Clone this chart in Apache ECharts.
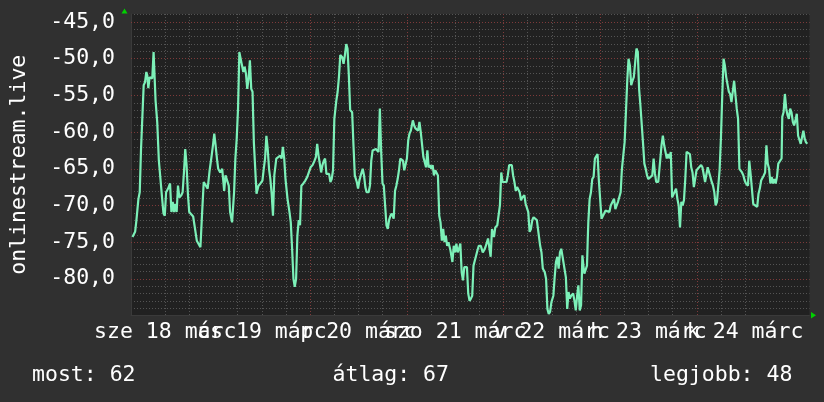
<!DOCTYPE html>
<html><head><meta charset="utf-8">
<script src="https://cdn.jsdelivr.net/npm/echarts@6/dist/echarts.min.js"></script>
<style>html,body{margin:0;padding:0;background:#303030;}#c{width:824px;height:402px;}</style>
</head><body><div id="c"></div>
<script>
// hours since 18 márc 00:00
const hours1 = [3.87,4.28,4.52,4.85,5.34,5.67,5.99,6.32,6.65,6.98,7.31,7.55,7.80,8.13,8.45,8.78,9.11,9.44,9.60,10.01,10.42,10.91,11.24,11.57,11.89,12.22,12.71,13.20,13.53,13.86,14.19,14.52,14.84,15.17,15.50,15.99,16.32,16.65,16.97,17.30,17.63,17.96,18.45,18.94,19.43,19.84,20.25,20.74,21.07,21.56,22.05,22.54,23.03,23.53,23.85,24.18,24.51,24.84,25.16,25.66,26.15,26.64,26.97,27.46,27.78,28.11,28.60,29.10,29.42,29.75,30.08,30.41,30.90,31.39,31.72,32.04,32.37,32.70,33.03,33.36,33.68,34.01,34.34,34.67,35.16,35.65,36.14,36.47,36.80,37.12,37.45,37.78,38.11,38.43,38.76,39.09,39.58,40.07,40.56,40.89,41.22,41.55,41.87,42.37,42.86,43.18,43.51,43.84,44.17,44.50,44.82,45.15,45.48,45.81,46.30,46.79,47.28,47.77,48.10,48.59,49.08,49.41,49.74,50.07,50.39,50.72,51.05,51.38,51.70,52.03,52.36,52.69,53.02,53.34,53.67,54.00,54.49,54.82,55.14,55.47,55.96,56.29,56.62,56.95,57.27,57.60,57.93,58.42,58.75,59.08];
const values1 = [-74.3,-74.3,-73.6,-72.0,-69.1,-68.2,-62.3,-62.2,-53.6,-53.2,-51.8,-52.3,-54.0,-52.5,-52.5,-52.7,-49.1,-49.3,-55.7,-58.6,-63.9,-64.1,-69.1,-71.1,-71.4,-68.2,-67.7,-67.0,-70.9,-69.5,-70.9,-69.8,-70.9,-67.3,-68.9,-68.6,-68.2,-65.5,-62.3,-64.5,-68.4,-70.9,-71.1,-71.5,-71.6,-74.8,-74.9,-75.7,-72.0,-66.8,-67.0,-67.7,-65.2,-63.2,-61.8,-60.2,-61.8,-63.6,-65.0,-65.5,-65.0,-68.0,-65.9,-65.7,-67.3,-70.9,-72.3,-68.2,-63.6,-60.9,-56.8,-49.1,-48.9,-51.8,-51.1,-52.0,-54.1,-52.7,-50.2,-54.1,-54.5,-61.4,-61.6,-68.4,-67.3,-67.0,-66.6,-65.0,-63.6,-60.5,-62.3,-65.0,-66.4,-68.4,-71.4,-65.9,-63.6,-63.6,-63.2,-63.6,-62.0,-63.6,-66.4,-69.1,-70.9,-72.3,-75.9,-80.0,-81.1,-80.0,-74.1,-72.0,-72.7,-67.3,-67.0,-66.6,-66.1,-66.1,-64.8,-64.5,-63.9,-63.4,-61.6,-63.2,-64.3,-65.5,-64.5,-63.9,-63.6,-65.7,-65.9,-65.7,-66.8,-66.4,-65.2,-58.2,-55.7,-54.5,-52.5,-49.5,-49.8,-50.7,-49.5,-48.0,-48.6,-52.3,-57.0,-57.3,-61.8,-65.9];
const hours2 = [59.57,59.89,60.22,60.55,61.04,61.37,61.70,62.02,62.52,62.84,63.17,63.50,63.83,64.32,64.65,64.97,65.30,65.63,65.96,66.28,66.61,66.94,67.27,67.59,67.92,68.25,68.74,69.07,69.40,69.72,70.05,70.38,70.71,71.04,71.36,71.69,72.02,72.35,72.67,73.00,73.49,73.82,74.15,74.48,74.80,75.13,75.46,75.79,76.11,76.44,76.77,77.10,77.42,77.75,78.08,78.41,78.73,79.06,79.39,79.72,80.05,80.37,80.70,81.03,81.36,81.68,82.01,82.34,82.83,83.32,83.65,83.98,84.30,84.63,84.96,85.29,85.62,85.94,86.27,86.60,86.93,87.25,87.58,87.91,88.24,88.56,88.89,89.22,89.55,89.87,90.37,90.86,91.19,91.51,91.84,92.17,92.50,92.82,93.15,93.64,93.97,94.46,94.79,95.12,95.45,95.77,96.26,96.76,97.08,97.41,97.74,98.07,98.39,98.72,99.05,99.38,99.70,100.03,100.36,100.69,101.18,101.51,101.83,102.16,102.49,102.82,103.15,103.47,103.80,104.29,104.78,105.11,105.44,105.77,106.26,106.58,106.91,107.24,107.57,107.90,108.39,108.71,109.04,109.37,109.70,110.03,110.35,110.68,111.17,111.50,111.83,112.16,112.48,112.81,113.30,113.63,113.96,114.29,114.61,114.94,115.27,115.60,115.92];
const values2 = [-66.8,-67.7,-66.6,-65.9,-65.0,-65.9,-67.5,-68.2,-68.2,-67.3,-63.9,-62.5,-62.3,-62.3,-62.3,-62.7,-56.8,-62.7,-67.0,-67.3,-70.0,-72.7,-73.2,-72.0,-71.4,-71.1,-71.8,-68.0,-67.3,-66.4,-65.2,-63.6,-63.6,-63.9,-65.2,-65.2,-63.6,-61.1,-60.2,-59.8,-58.4,-59.1,-59.5,-59.3,-59.8,-58.6,-60.0,-60.2,-63.4,-63.6,-64.8,-62.5,-64.8,-64.5,-65.0,-64.5,-65.9,-65.2,-65.0,-65.9,-71.4,-72.3,-74.8,-73.2,-75.0,-74.1,-75.5,-75.0,-76.1,-77.7,-75.5,-76.4,-75.2,-76.4,-75.9,-75.2,-79.1,-80.2,-78.4,-78.2,-78.4,-82.0,-83.0,-82.7,-82.3,-78.2,-77.5,-77.3,-76.1,-75.5,-75.5,-76.4,-76.1,-75.7,-75.9,-74.5,-74.5,-77.0,-73.2,-74.3,-73.0,-72.7,-72.7,-70.0,-65.5,-66.8,-66.8,-66.8,-65.9,-64.5,-64.3,-64.5,-65.9,-66.8,-68.0,-67.5,-67.3,-68.2,-69.3,-68.9,-68.6,-69.8,-70.0,-70.9,-73.6,-73.2,-72.0,-71.6,-71.4,-72.0,-72.0,-75.5,-76.4,-78.6,-79.1,-80.0,-84.1,-84.8,-84.5,-83.2,-82.3,-79.8,-77.7,-77.0,-78.6,-76.4,-75.9,-77.0,-77.0,-79.8,-84.1,-81.8,-82.7,-82.3,-82.0,-83.0,-84.3,-82.3,-80.9,-84.3,-83.6,-76.8,-78.6];
const hours3 = [116.09,116.41,116.74,116.91,117.07,117.40,117.73,118.05,118.38,118.71,119.04,119.36,119.69,120.02,120.35,120.67,121.00,121.33,121.82,122.31,122.64,123.13,123.46,123.79,124.11,124.44,124.77,125.10,125.42,125.75,126.08,126.41,126.74,127.06,127.39,127.72,128.05,128.37,128.70,129.03,129.36,129.68,130.01,130.34,130.67,130.99,131.32,131.65,131.98,132.47,132.96,133.29,133.62,133.94,134.44,134.93,135.25,135.58,135.91,136.24,136.56,136.89,137.22,137.55,137.88,138.37,138.86,139.19,139.51,139.84,140.17,140.50,140.82,141.15,141.48,141.97,142.30,142.63,142.95,143.28,143.61,143.94,144.27,144.59,145.09,145.41,145.74,146.07,146.40,146.72,147.05,147.38,147.71,148.03,148.36,148.69,149.02,149.34,149.67,150.00,150.33,150.66,150.98,151.31,151.64,151.97,152.29,152.62,152.95,153.28,153.60,153.93,154.26,154.59,154.91,155.24,155.57,155.90,156.22,156.72,157.04,157.37,157.70,158.03,158.52,159.01,159.34,159.66,159.99,160.32,160.65,160.97,161.30,161.63,161.96,162.29,162.61,162.94,163.27,163.60,163.92,164.25,164.74,165.07,165.24,165.56,165.89,166.22,166.55,166.87,167.20,167.53,167.86,168.18,168.51,168.84,169.17,169.50,169.82,170.15,170.48,170.81,171.13,171.46];
const values3 = [-79.3,-79.1,-78.2,-75.0,-72.3,-69.1,-68.2,-66.4,-66.1,-63.6,-63.4,-63.0,-66.6,-66.8,-71.8,-71.6,-71.1,-70.7,-70.7,-70.9,-70.0,-69.8,-69.1,-70.5,-70.0,-69.5,-69.3,-68.2,-65.0,-64.8,-61.4,-57.3,-53.0,-50.0,-50.9,-53.6,-53.0,-52.5,-52.3,-48.6,-49.1,-54.1,-56.4,-56.6,-61.6,-64.3,-65.0,-65.9,-66.4,-66.4,-65.9,-63.6,-65.7,-66.8,-66.8,-66.8,-61.8,-60.5,-61.8,-62.0,-63.6,-63.0,-63.6,-62.7,-68.9,-68.9,-67.7,-69.1,-70.0,-73.0,-69.5,-70.0,-69.3,-66.4,-62.7,-62.7,-63.0,-64.8,-65.5,-67.5,-67.5,-65.2,-65.0,-64.8,-64.5,-64.8,-65.0,-66.8,-66.8,-64.8,-65.0,-66.1,-66.8,-67.3,-68.2,-70.0,-69.5,-69.5,-65.2,-60.9,-55.0,-50.0,-50.9,-52.5,-52.7,-54.5,-54.8,-55.9,-55.7,-53.0,-53.2,-56.8,-58.2,-65.0,-65.2,-65.5,-65.9,-66.6,-67.0,-67.3,-63.9,-65.7,-65.9,-69.8,-69.8,-70.2,-68.4,-67.7,-66.6,-66.6,-65.9,-65.5,-61.8,-64.3,-65.0,-67.0,-66.1,-67.0,-66.4,-67.0,-66.1,-64.3,-64.1,-63.6,-57.9,-57.3,-54.8,-56.8,-57.7,-58.2,-56.8,-57.3,-58.6,-59.1,-58.4,-57.5,-60.5,-60.7,-61.6,-60.7,-59.8,-60.9,-61.4,-61.6];

const yAxisName = 'onlinestream.live';
const dayLabels = ['sze 18 márc','cs 19 márc','p 20 márc','szo 21 márc','v 22 márc','h 23 márc','k 24 márc'];
const dayLabelHours = [12,36,60,84,108,132,156];
const midnightHours = [24,48,72,96,120,144,168];
const sixHourMarks = [6,12,18,30,36,42,54,60,66,78,84,90,102,108,114,126,132,138,150,156,162];
const yLabelValues = [-80,-75,-70,-65,-60,-55,-50,-45];
const statNames = ['most','átlag','legjobb'];
const statValues = [62,67,48];

const FONT = '"DejaVu Sans Mono", monospace';
const FS = 21.5;
const hours = hours1.concat(hours2, hours3);
const values = values1.concat(values2, values3);
const seriesData = hours.map((h, i) => [h, values[i]]);
// split labels over two axes so neighbouring (overlapping) labels are never auto-hidden
const labelHoursA = dayLabelHours.filter((h, i) => i % 2 === 0);
const labelHoursB = dayLabelHours.filter((h, i) => i % 2 === 1);
const fmtDay = v => dayLabels[dayLabelHours.indexOf(v)] || '';

const chart = echarts.init(document.getElementById('c'), null, {renderer: 'canvas'});
const gridLeft = 124, gridRight = 14.5, gridTop = 14, gridBottom = 86.5;
const statX = [32, 332.5, 650];
const xLabelStyle = {color: '#ffffff', fontFamily: FONT, fontSize: FS, margin: 6, hideOverlap: false, showMinLabel: true, showMaxLabel: true, formatter: fmtDay};
chart.setOption({
  backgroundColor: '#303030',
  animation: false,
  grid: {left: gridLeft, right: gridRight, top: gridTop, bottom: gridBottom, show: true, backgroundColor: '#212121', borderWidth: 0},
  xAxis: [{
    type: 'value', min: 3.5, max: 172, position: 'bottom', z: 1,
    axisLine: {show: true, onZero: false, lineStyle: {color: '#3a3a3a', width: 1}},
    axisTick: {show: false, customValues: sixHourMarks},
    axisLabel: Object.assign({customValues: labelHoursA}, xLabelStyle),
    splitLine: {show: true, showMinLine: false, showMaxLine: false, lineStyle: {color: '#545454', width: 1, type: [1, 2]}}
  }, {
    type: 'value', min: 3.5, max: 172, position: 'bottom', z: 2,
    axisLine: {show: false}, axisTick: {show: false, customValues: midnightHours},
    axisLabel: Object.assign({customValues: labelHoursB}, xLabelStyle),
    splitLine: {show: true, showMinLine: false, showMaxLine: false, lineStyle: {color: '#7e3a3a', width: 1, type: [1, 2]}}
  }],
  yAxis: [{
    type: 'value', min: -85, max: -43.9, interval: 1, position: 'left', z: 1,
    axisLine: {show: true, onZero: false, lineStyle: {color: '#3a3a3a', width: 1}},
    axisTick: {show: false},
    axisLabel: {customValues: yLabelValues, formatter: v => v.toFixed(1).replace('.', ','),
      color: '#ffffff', fontFamily: FONT, fontSize: FS, margin: 16, showMinLabel: true, showMaxLabel: true},
    splitLine: {show: true, showMinLine: false, showMaxLine: false, lineStyle: {color: '#545454', width: 1, type: [1, 2]}},
    name: yAxisName, nameLocation: 'middle', nameGap: 101,
    nameTextStyle: {color: '#ffffff', fontFamily: FONT, fontSize: FS}
  }, {
    type: 'value', min: -85, max: -43.9, interval: 5, position: 'left', z: 2,
    axisLine: {show: false}, axisTick: {show: false}, axisLabel: {show: false},
    splitLine: {show: true, showMinLine: false, showMaxLine: false, lineStyle: {color: '#7e3a3a', width: 1, type: [1, 2]}}
  }],
  series: [{
    type: 'line', xAxisIndex: 0, yAxisIndex: 0, data: seriesData, showSymbol: false, symbol: 'none',
    lineStyle: {color: '#7cf0b8', width: 2.2}, z: 5, silent: true
  }],
  graphic: statNames.map((n, i) => ({
    type: 'text', x: statX[i], y: 375,
    style: {text: n + ': ' + statValues[i], fill: '#ffffff', font: FS + 'px ' + FONT, verticalAlign: 'middle', align: 'left'}
  })).concat([
    {type: 'polygon', z: 10, shape: {points: [[121.5, 13.5], [127.5, 13.5], [124.5, 8.5]]}, style: {fill: '#00d000'}},
    {type: 'polygon', z: 10, shape: {points: [[811, 312], [811, 318.5], [816, 315.2]]}, style: {fill: '#00d000'}}
  ])
});
</script></body></html>
